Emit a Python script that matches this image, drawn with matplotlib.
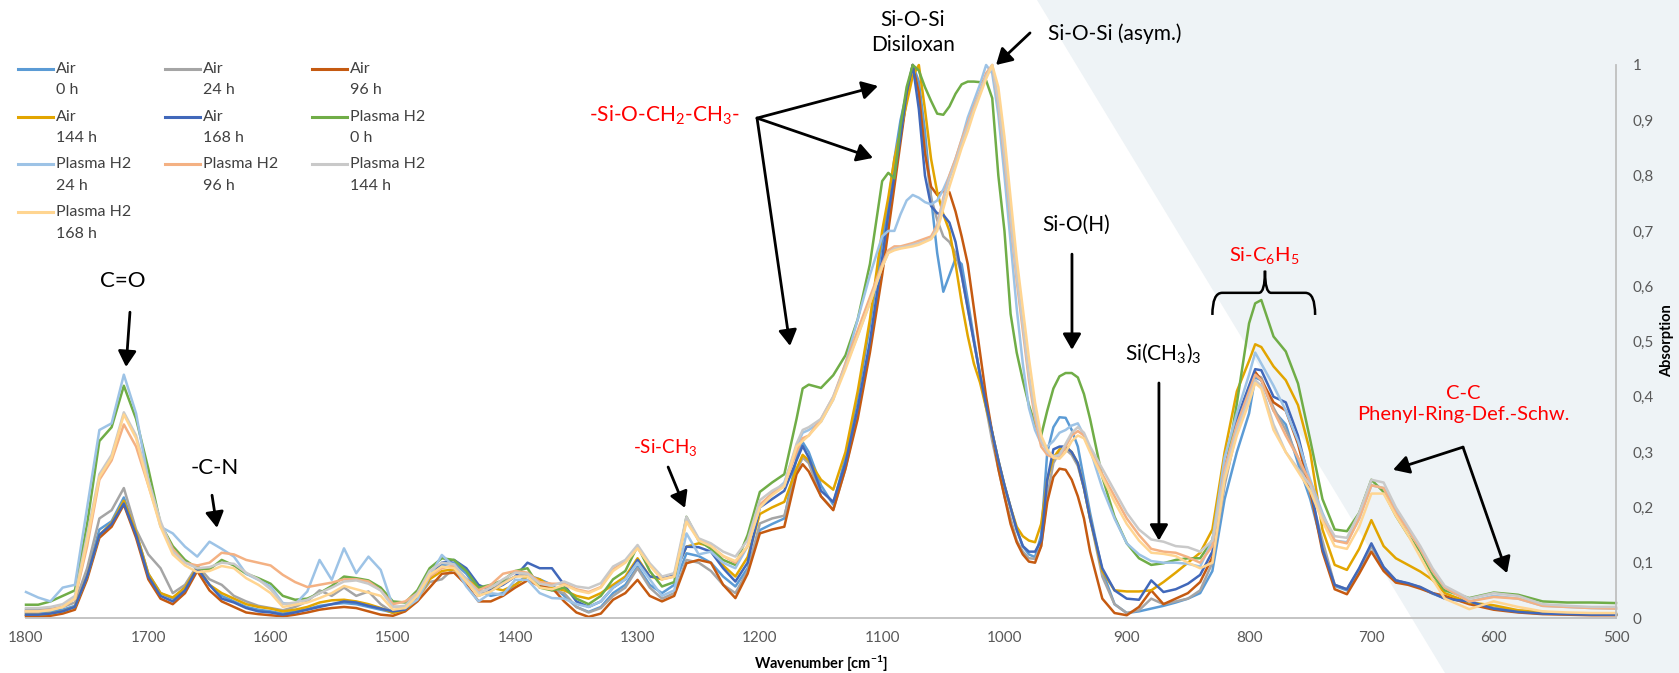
import matplotlib
matplotlib.use("Agg")
import matplotlib.pyplot as plt
from matplotlib.patches import Polygon, PathPatch
from matplotlib.path import Path
from matplotlib.lines import Line2D

plt.rcParams['font.family'] = ['Lato', 'DejaVu Sans']
plt.rcParams['mathtext.fontset'] = 'custom'
plt.rcParams['mathtext.rm'] = 'Lato'
plt.rcParams['mathtext.it'] = 'Lato:italic'
plt.rcParams['mathtext.bf'] = 'Lato:bold'

# wavenumber grid (cm-1)
wavenumber = [1800, 1790, 1780, 1770, 1760, 1750, 1740, 1730, 1720, 1710,
              1700, 1690, 1680, 1670, 1660, 1650, 1640, 1630, 1620, 1610, 1600,
              1590, 1580, 1570, 1560, 1550, 1540, 1530, 1520, 1510, 1500,
              1490, 1480, 1470, 1460, 1450, 1440, 1430, 1420, 1410, 1400,
              1390, 1380, 1370, 1360, 1350, 1340, 1330, 1320, 1310, 1300,
              1290, 1280, 1270, 1260, 1250, 1240, 1230, 1220, 1210, 1200,
              1190, 1180,
              1170, 1165, 1160, 1150, 1140, 1130, 1120, 1110, 1100, 1095,
              1090, 1085, 1080, 1075, 1070, 1065, 1060, 1055, 1050, 1045,
              1040, 1035, 1030, 1025, 1020, 1015, 1010, 1005, 1000, 995,
              990, 985, 980, 975, 970, 965, 960, 955, 950, 945,
              940, 935, 930,
              920, 910, 900, 890, 880, 870, 860, 850, 840, 830,
              820, 810, 800, 795, 790, 780, 770, 760, 750, 740,
              730, 720, 710, 700, 690, 680, 670, 660, 650,
              640, 620, 600, 580, 560, 540, 520, 500]

air_0h = [0.010, 0.010, 0.012, 0.015, 0.022, 0.080, 0.160, 0.175, 0.218, 0.155,
          0.080, 0.045, 0.035, 0.055, 0.090, 0.060, 0.040, 0.030, 0.020, 0.015, 0.012,
          0.008, 0.012, 0.016, 0.022, 0.025, 0.027, 0.025, 0.020, 0.015, 0.010,
          0.015, 0.040, 0.072, 0.095, 0.100, 0.080, 0.050, 0.040, 0.045, 0.060,
          0.078, 0.070, 0.060, 0.040, 0.020, 0.011, 0.020, 0.045, 0.060, 0.093,
          0.060, 0.045, 0.060, 0.117, 0.112, 0.100, 0.075, 0.057, 0.090, 0.159,
          0.170, 0.180,
          0.290, 0.318, 0.300, 0.240, 0.205, 0.290, 0.400, 0.530, 0.680, 0.750,
          0.830, 0.900, 0.950, 1.000, 0.970, 0.880, 0.760, 0.660, 0.590, 0.620,
          0.650, 0.640, 0.575, 0.505, 0.440, 0.385, 0.335, 0.285, 0.240, 0.200,
          0.160, 0.130, 0.115, 0.110, 0.150, 0.300, 0.345, 0.363, 0.362, 0.340,
          0.310, 0.250, 0.190,
          0.085, 0.025, 0.009, 0.012, 0.017, 0.022, 0.028, 0.035, 0.045, 0.085,
          0.215, 0.300, 0.370, 0.435, 0.430, 0.375, 0.350, 0.280, 0.215, 0.130,
          0.058, 0.050, 0.085, 0.130, 0.090, 0.068, 0.062, 0.055, 0.044,
          0.036, 0.028, 0.018, 0.012, 0.009, 0.008, 0.007, 0.007]

air_24h = [0.015, 0.015, 0.016, 0.020, 0.028, 0.090, 0.180, 0.195, 0.235, 0.160,
           0.115, 0.090, 0.045, 0.060, 0.095, 0.070, 0.060, 0.040, 0.030, 0.022, 0.018,
           0.014, 0.020, 0.030, 0.050, 0.040, 0.055, 0.040, 0.048, 0.025, 0.010,
           0.015, 0.035, 0.065, 0.070, 0.090, 0.070, 0.040, 0.050, 0.065, 0.075,
           0.080, 0.060, 0.050, 0.045, 0.020, 0.010, 0.018, 0.040, 0.055, 0.090,
           0.055, 0.035, 0.045, 0.105, 0.100, 0.085, 0.060, 0.045, 0.085, 0.171,
           0.180, 0.185,
           0.265, 0.290, 0.280, 0.220, 0.196, 0.270, 0.370, 0.490, 0.640, 0.720,
           0.800, 0.870, 0.940, 1.000, 0.950, 0.850, 0.760, 0.720, 0.690, 0.680,
           0.660, 0.620, 0.560, 0.500, 0.440, 0.380, 0.320, 0.270, 0.220, 0.180,
           0.140, 0.120, 0.108, 0.107, 0.130, 0.220, 0.280, 0.300, 0.305, 0.295,
           0.275, 0.235, 0.180,
           0.075, 0.025, 0.009, 0.014, 0.035, 0.025, 0.030, 0.035, 0.050, 0.100,
           0.240, 0.340, 0.410, 0.440, 0.435, 0.380, 0.340, 0.290, 0.225, 0.140,
           0.060, 0.052, 0.088, 0.130, 0.092, 0.068, 0.062, 0.056, 0.045,
           0.036, 0.030, 0.018, 0.012, 0.009, 0.008, 0.007, 0.007]

air_96h = [0.003, 0.003, 0.004, 0.008, 0.015, 0.070, 0.145, 0.165, 0.205, 0.145,
           0.070, 0.035, 0.025, 0.045, 0.085, 0.050, 0.030, 0.020, 0.010, 0.007, 0.005,
           0.003, 0.006, 0.010, 0.015, 0.018, 0.020, 0.018, 0.012, 0.006, 0.004,
           0.012, 0.030, 0.055, 0.080, 0.082, 0.060, 0.030, 0.030, 0.040, 0.055,
           0.068, 0.058, 0.055, 0.030, 0.010, 0.002, 0.008, 0.033, 0.045, 0.069,
           0.040, 0.030, 0.040, 0.099, 0.105, 0.100, 0.060, 0.036, 0.080, 0.153,
           0.160, 0.165,
           0.260, 0.278, 0.265, 0.220, 0.195, 0.270, 0.360, 0.480, 0.620, 0.700,
           0.780, 0.860, 0.940, 1.000, 0.950, 0.840, 0.780, 0.765, 0.772, 0.770,
           0.735, 0.690, 0.640, 0.560, 0.480, 0.400, 0.335, 0.270, 0.220, 0.170,
           0.137, 0.115, 0.102, 0.100, 0.130, 0.210, 0.255, 0.270, 0.268, 0.250,
           0.220, 0.180, 0.120,
           0.035, 0.009, 0.005, 0.020, 0.050, 0.025, 0.035, 0.045, 0.065, 0.110,
           0.260, 0.340, 0.410, 0.445, 0.430, 0.390, 0.375, 0.315, 0.230, 0.120,
           0.052, 0.043, 0.080, 0.120, 0.085, 0.064, 0.060, 0.053, 0.045,
           0.040, 0.025, 0.015, 0.010, 0.007, 0.006, 0.005, 0.005]

air_144h = [0.006, 0.006, 0.008, 0.012, 0.020, 0.075, 0.150, 0.172, 0.212, 0.155,
            0.080, 0.045, 0.037, 0.055, 0.092, 0.060, 0.045, 0.035, 0.025, 0.020, 0.017,
            0.012, 0.015, 0.020, 0.028, 0.032, 0.033, 0.030, 0.025, 0.018, 0.009,
            0.015, 0.035, 0.070, 0.085, 0.088, 0.070, 0.055, 0.055, 0.050, 0.060,
            0.075, 0.070, 0.055, 0.050, 0.040, 0.035, 0.045, 0.060, 0.075, 0.108,
            0.075, 0.070, 0.080, 0.129, 0.135, 0.130, 0.095, 0.075, 0.110, 0.188,
            0.200, 0.210,
            0.270, 0.295, 0.285, 0.250, 0.232, 0.300, 0.410, 0.540, 0.700, 0.760,
            0.830, 0.880, 0.930, 0.980, 1.000, 0.920, 0.830, 0.770, 0.730, 0.700,
            0.640, 0.570, 0.510, 0.460, 0.426, 0.380, 0.335, 0.285, 0.240, 0.200,
            0.165, 0.148, 0.140, 0.137, 0.170, 0.250, 0.290, 0.305, 0.310, 0.300,
            0.280, 0.235, 0.180,
            0.085, 0.050, 0.048, 0.048, 0.050, 0.065, 0.082, 0.100, 0.118, 0.160,
            0.300, 0.410, 0.465, 0.495, 0.490, 0.455, 0.430, 0.385, 0.300, 0.160,
            0.096, 0.087, 0.125, 0.177, 0.130, 0.108, 0.096, 0.084, 0.069,
            0.045, 0.028, 0.023, 0.014, 0.011, 0.008, 0.008, 0.006]

air_168h = [0.006, 0.006, 0.008, 0.012, 0.020, 0.075, 0.150, 0.170, 0.207, 0.150,
            0.075, 0.040, 0.030, 0.050, 0.090, 0.060, 0.035, 0.028, 0.018, 0.012, 0.010,
            0.006, 0.010, 0.015, 0.020, 0.025, 0.030, 0.028, 0.022, 0.017, 0.012,
            0.015, 0.040, 0.075, 0.100, 0.105, 0.090, 0.060, 0.050, 0.060, 0.075,
            0.100, 0.090, 0.090, 0.060, 0.030, 0.020, 0.030, 0.055, 0.070, 0.105,
            0.075, 0.073, 0.080, 0.129, 0.128, 0.120, 0.090, 0.066, 0.100, 0.200,
            0.215, 0.230,
            0.285, 0.311, 0.290, 0.230, 0.210, 0.280, 0.380, 0.500, 0.650, 0.730,
            0.800, 0.870, 0.950, 1.000, 0.920, 0.800, 0.745, 0.732, 0.729, 0.715,
            0.680, 0.620, 0.560, 0.500, 0.440, 0.385, 0.335, 0.285, 0.240, 0.200,
            0.160, 0.130, 0.120, 0.120, 0.140, 0.250, 0.305, 0.310, 0.310, 0.300,
            0.280, 0.235, 0.180,
            0.090, 0.050, 0.035, 0.033, 0.068, 0.047, 0.052, 0.062, 0.078, 0.120,
            0.270, 0.360, 0.420, 0.450, 0.448, 0.400, 0.390, 0.330, 0.240, 0.125,
            0.060, 0.052, 0.090, 0.135, 0.092, 0.068, 0.063, 0.056, 0.045,
            0.035, 0.030, 0.017, 0.011, 0.008, 0.007, 0.006, 0.006]

plasma_0h = [0.024, 0.024, 0.030, 0.040, 0.050, 0.170, 0.320, 0.345, 0.420, 0.360,
             0.270, 0.170, 0.130, 0.105, 0.090, 0.088, 0.105, 0.095, 0.080, 0.072, 0.062,
             0.040, 0.033, 0.035, 0.045, 0.058, 0.075, 0.072, 0.068, 0.055, 0.030,
             0.028, 0.050, 0.090, 0.108, 0.105, 0.085, 0.055, 0.060, 0.068, 0.085,
             0.090, 0.055, 0.050, 0.055, 0.035, 0.025, 0.040, 0.070, 0.085, 0.130,
             0.085, 0.057, 0.065, 0.183, 0.140, 0.125, 0.105, 0.096, 0.150, 0.228,
             0.245, 0.260,
             0.360, 0.415, 0.422, 0.416, 0.439, 0.475, 0.540, 0.640, 0.790, 0.805,
             0.795, 0.890, 0.960, 1.000, 0.990, 0.960, 0.935, 0.912, 0.910, 0.925,
             0.948, 0.965, 0.970, 0.970, 0.969, 0.972, 0.940, 0.800, 0.700, 0.550,
             0.480, 0.430, 0.385, 0.350, 0.330, 0.375, 0.415, 0.437, 0.443, 0.443,
             0.435, 0.405, 0.360,
             0.255, 0.183, 0.135, 0.108, 0.096, 0.099, 0.105, 0.108, 0.108, 0.141,
             0.255, 0.388, 0.533, 0.569, 0.575, 0.509, 0.482, 0.424, 0.322, 0.215,
             0.160, 0.157, 0.190, 0.250, 0.228, 0.185, 0.150, 0.120, 0.078,
             0.050, 0.036, 0.046, 0.042, 0.030, 0.028, 0.028, 0.027]

plasma_24h = [0.047, 0.037, 0.030, 0.055, 0.060, 0.200, 0.340, 0.352, 0.440, 0.370,
              0.250, 0.165, 0.153, 0.129, 0.111, 0.138, 0.125, 0.111, 0.080, 0.069, 0.057,
              0.027, 0.025, 0.048, 0.105, 0.069, 0.126, 0.081, 0.111, 0.087, 0.021,
              0.018, 0.033, 0.075, 0.114, 0.093, 0.057, 0.030, 0.045, 0.042, 0.069,
              0.069, 0.045, 0.036, 0.035, 0.025, 0.020, 0.030, 0.055, 0.070, 0.100,
              0.070, 0.040, 0.050, 0.153, 0.115, 0.120, 0.100, 0.090, 0.130, 0.200,
              0.225, 0.245,
              0.310, 0.335, 0.340, 0.355, 0.395, 0.460, 0.540, 0.620, 0.690, 0.700,
              0.700, 0.730, 0.755, 0.765, 0.760, 0.752, 0.748, 0.755, 0.775, 0.800,
              0.830, 0.865, 0.905, 0.935, 0.965, 1.000, 0.985, 0.910, 0.800, 0.680,
              0.560, 0.460, 0.380, 0.340, 0.315, 0.310, 0.320, 0.335, 0.340, 0.348,
              0.352, 0.330, 0.305,
              0.235, 0.180, 0.135, 0.115, 0.103, 0.100, 0.100, 0.098, 0.093, 0.140,
              0.290, 0.370, 0.440, 0.480, 0.460, 0.420, 0.375, 0.320, 0.250, 0.190,
              0.140, 0.137, 0.180, 0.240, 0.235, 0.195, 0.160, 0.125, 0.085,
              0.055, 0.030, 0.040, 0.035, 0.022, 0.020, 0.018, 0.017]

plasma_96h = [0.012, 0.012, 0.015, 0.020, 0.035, 0.130, 0.250, 0.285, 0.350, 0.310,
              0.240, 0.170, 0.125, 0.100, 0.095, 0.100, 0.118, 0.115, 0.105, 0.100, 0.095,
              0.078, 0.065, 0.056, 0.060, 0.064, 0.070, 0.070, 0.066, 0.050, 0.025,
              0.030, 0.045, 0.075, 0.090, 0.095, 0.070, 0.050, 0.060, 0.080, 0.085,
              0.082, 0.065, 0.062, 0.062, 0.052, 0.047, 0.056, 0.088, 0.102, 0.127,
              0.096, 0.070, 0.075, 0.178, 0.142, 0.130, 0.112, 0.100, 0.130, 0.205,
              0.225, 0.240,
              0.300, 0.325, 0.330, 0.360, 0.400, 0.460, 0.520, 0.580, 0.640, 0.665,
              0.672, 0.672, 0.675, 0.678, 0.682, 0.686, 0.690, 0.710, 0.760, 0.800,
              0.830, 0.865, 0.895, 0.925, 0.952, 0.985, 1.000, 0.930, 0.830, 0.720,
              0.610, 0.520, 0.430, 0.360, 0.310, 0.295, 0.290, 0.290, 0.310, 0.330,
              0.338, 0.330, 0.305,
              0.260, 0.220, 0.180, 0.150, 0.125, 0.120, 0.118, 0.110, 0.100, 0.130,
              0.270, 0.350, 0.410, 0.440, 0.430, 0.375, 0.330, 0.290, 0.245, 0.180,
              0.140, 0.135, 0.180, 0.240, 0.235, 0.190, 0.160, 0.125, 0.085,
              0.055, 0.030, 0.038, 0.035, 0.022, 0.020, 0.018, 0.017]

plasma_144h = [0.018, 0.018, 0.020, 0.025, 0.040, 0.150, 0.260, 0.295, 0.372, 0.330,
               0.250, 0.175, 0.120, 0.100, 0.090, 0.092, 0.100, 0.098, 0.082, 0.070, 0.052,
               0.025, 0.028, 0.033, 0.045, 0.055, 0.066, 0.068, 0.062, 0.050, 0.020,
               0.022, 0.045, 0.085, 0.100, 0.097, 0.070, 0.045, 0.055, 0.070, 0.082,
               0.080, 0.062, 0.058, 0.066, 0.057, 0.054, 0.063, 0.093, 0.105, 0.132,
               0.099, 0.075, 0.081, 0.183, 0.144, 0.135, 0.120, 0.111, 0.141, 0.213,
               0.230, 0.242,
               0.315, 0.340, 0.345, 0.360, 0.400, 0.455, 0.510, 0.570, 0.635, 0.660,
               0.668, 0.670, 0.672, 0.675, 0.678, 0.682, 0.686, 0.705, 0.755, 0.795,
               0.825, 0.860, 0.890, 0.920, 0.950, 0.980, 1.000, 0.935, 0.840, 0.730,
               0.620, 0.530, 0.440, 0.370, 0.320, 0.300, 0.292, 0.295, 0.315, 0.335,
               0.345, 0.335, 0.310,
               0.270, 0.230, 0.190, 0.160, 0.142, 0.138, 0.130, 0.128, 0.120, 0.140,
               0.260, 0.340, 0.400, 0.430, 0.420, 0.350, 0.300, 0.270, 0.240, 0.185,
               0.148, 0.145, 0.190, 0.250, 0.245, 0.200, 0.165, 0.130, 0.090,
               0.058, 0.035, 0.045, 0.040, 0.025, 0.022, 0.020, 0.020]

plasma_168h = [0.012, 0.012, 0.014, 0.020, 0.035, 0.140, 0.255, 0.290, 0.368, 0.325,
               0.240, 0.165, 0.115, 0.095, 0.083, 0.085, 0.094, 0.090, 0.072, 0.060, 0.045,
               0.020, 0.024, 0.028, 0.036, 0.045, 0.058, 0.052, 0.046, 0.040, 0.015,
               0.018, 0.040, 0.078, 0.093, 0.090, 0.066, 0.040, 0.048, 0.062, 0.075,
               0.075, 0.055, 0.052, 0.060, 0.050, 0.045, 0.055, 0.085, 0.100, 0.126,
               0.095, 0.070, 0.075, 0.174, 0.140, 0.130, 0.112, 0.103, 0.130, 0.200,
               0.222, 0.238,
               0.310, 0.320, 0.330, 0.355, 0.395, 0.450, 0.510, 0.570, 0.635, 0.660,
               0.665, 0.668, 0.670, 0.672, 0.675, 0.680, 0.685, 0.700, 0.740, 0.780,
               0.815, 0.850, 0.880, 0.915, 0.945, 0.975, 1.000, 0.960, 0.870, 0.760,
               0.650, 0.560, 0.470, 0.390, 0.330, 0.305, 0.290, 0.288, 0.300, 0.320,
               0.330, 0.325, 0.300,
               0.255, 0.210, 0.170, 0.140, 0.118, 0.116, 0.112, 0.100, 0.090, 0.100,
               0.250, 0.330, 0.390, 0.425, 0.415, 0.340, 0.300, 0.265, 0.230, 0.175,
               0.130, 0.125, 0.165, 0.225, 0.225, 0.185, 0.150, 0.110, 0.070,
               0.035, 0.016, 0.030, 0.020, 0.012, 0.010, 0.009, 0.009]

series = [air_0h, air_24h, air_96h, air_144h, air_168h,
          plasma_0h, plasma_24h, plasma_96h, plasma_144h, plasma_168h]
labels = ["Air\n0 h", "Air\n24 h", "Air\n96 h", "Air\n144 h", "Air\n168 h",
          "Plasma H2\n0 h", "Plasma H2\n24 h", "Plasma H2\n96 h", "Plasma H2\n144 h",
          "Plasma H2\n168 h"]
colors = ['#5B9BD5', '#A5A5A5', '#C55A11', '#E2A500', '#4168BA',
          '#70AD47', '#9DC3E6', '#F4B183', '#C9C9C9', '#FFD591']

x_ticks = [1800, 1700, 1600, 1500, 1400, 1300, 1200, 1100, 1000, 900, 800, 700, 600, 500]
y_ticks = [0, 0.1, 0.2, 0.3, 0.4, 0.5, 0.6, 0.7, 0.8, 0.9, 1]
y_tick_labels = ['0', '0,1', '0,2', '0,3', '0,4', '0,5', '0,6', '0,7', '0,8', '0,9', '1']

W, H = 1679, 673
fig = plt.figure(figsize=(W / 100, H / 100), dpi=100)

# light backdrop on the right side of the slide
fig.patches.append(Polygon([(1037 / W, 1), (1, 1), (1, 0), (1445 / W, 0)], closed=True,
                           transform=fig.transFigure, facecolor='#EEF3F6',
                           edgecolor='none', zorder=-10))

ax = fig.add_axes([26 / W, 55 / H, 1590 / W, 553 / H])
ax.set_facecolor('none')

for vals, col in zip(series, colors):
    ax.plot(wavenumber, vals, color=col, lw=1.8, clip_on=False, solid_joinstyle='round')

ax.set_xlim(1800, 500)
ax.set_ylim(0, 1)
ax.set_xticks(x_ticks)
ax.yaxis.tick_right()
ax.set_yticks(y_ticks)
ax.set_yticklabels(y_tick_labels)
ax.tick_params(length=0, colors='#595959', labelsize=11)
ax.tick_params(axis='x', pad=9)
ax.tick_params(axis='y', pad=12)
for s in ['left', 'top']:
    ax.spines[s].set_visible(False)
for s in ['bottom', 'right']:
    ax.spines[s].set_color('#BFBFBF')
    ax.spines[s].set_linewidth(1.3)

fig.text(821 / W, 1 - 664 / H, r'Wavenumber [cm$^{\mathbf{-1}}$]', ha='center', va='center',
         fontsize=10.5, fontweight='bold')
fig.text(1667 / W, 1 - 341 / H, 'Absorption', ha='center', va='center', rotation=90,
         fontsize=10.5, fontweight='bold')

# legend, three columns, label on two lines
leg_x = [18, 165, 312]
leg_y = [69, 117, 164, 212]
for i, (lab, col) in enumerate(zip(labels, colors)):
    r, c = divmod(i, 3)
    x0, y0 = leg_x[c], leg_y[r]
    fig.add_artist(Line2D([x0 / W, (x0 + 35) / W], [1 - y0 / H, 1 - y0 / H],
                          color=col, lw=2.2, transform=fig.transFigure))
    first, second = lab.split('\n')
    fig.text((x0 + 38) / W, 1 - y0 / H, first, va='center', ha='left', fontsize=11.5,
             color='#404040')
    fig.text((x0 + 38) / W, 1 - (y0 + 21.5) / H, second, va='center', ha='left',
             fontsize=11.5, color='#404040')

arrow = dict(arrowstyle='-|>,head_length=0.95,head_width=0.55', color='black', lw=2,
             mutation_scale=10, shrinkA=0, shrinkB=0)


def point(text, xy, xytext, **kw):
    ax.annotate(text, xy=xy, xytext=xytext, arrowprops=arrow, annotation_clip=False,
                ha='center', va='center', **kw)


# band labels
ax.text(1720.6, 0.609, 'C=O', fontsize=16, ha='center', va='center')
point('', (1718.2, 0.454), (1715.0, 0.553))
ax.text(1646.0, 0.271, '-C-N', fontsize=16, ha='center', va='center')
point('', (1643.8, 0.163), (1647.9, 0.222))
ax.text(1277.6, 0.309, r'-Si-CH$_3$', fontsize=13.5, color='red', ha='center', va='center')
point('', (1261.2, 0.199), (1275.0, 0.273))
ax.text(1278.4, 0.909, r'-Si-O-CH$_2$-CH$_3$-', fontsize=15, color='red',
        ha='center', va='center', clip_on=False)
for tip in [(1103.4, 0.962), (1107.5, 0.832), (1175.3, 0.492)]:
    point('', tip, (1202.3, 0.904))
ax.text(1074.8, 1.059, 'Si-O-Si\nDisiloxan', fontsize=15, ha='center', va='center',
        linespacing=1.35, clip_on=False)
ax.text(964.5, 1.056, 'Si-O-Si (asym.)', fontsize=15, ha='left', va='center', clip_on=False)
point('', (1006.9, 1.0), (979.1, 1.058))
ax.text(941.5, 0.711, 'Si-O(H)', fontsize=15, ha='center', va='center')
point('', (944.8, 0.485), (944.8, 0.658))
ax.text(870.4, 0.478, r'Si(CH$_3$)$_3$', fontsize=15, ha='center', va='center')
point('', (873.7, 0.140), (873.7, 0.425))
ax.text(787.8, 0.656, r'Si-C$_6$H$_5$', fontsize=14.5, color='red', ha='center', va='center')
xl, xr, xm = 830.0, 746.0, 787.0
yb, ym, yt = 0.548, 0.588, 0.628
brace = Path([(xl, yb), (xl, ym), (xl - 8, ym), (xm + 5, ym), (xm, ym), (xm, yt),
              (xm, ym), (xm - 5, ym), (xr + 8, ym), (xr, ym), (xr, yb)],
             [Path.MOVETO, Path.CURVE3, Path.CURVE3, Path.LINETO, Path.CURVE3, Path.CURVE3,
              Path.CURVE3, Path.CURVE3, Path.LINETO, Path.CURVE3, Path.CURVE3])
ax.add_patch(PathPatch(brace, fill=False, lw=1.8, edgecolor='black', clip_on=False))
ax.text(625.1, 0.387, 'C-C\nPhenyl-Ring-Def.-Schw.', fontsize=14.5, color='red',
        ha='center', va='center', linespacing=1.3)
point('', (682.3, 0.268), (625.1, 0.309))
point('', (589.1, 0.081), (625.1, 0.309))

fig.savefig('out.png', dpi=100)
